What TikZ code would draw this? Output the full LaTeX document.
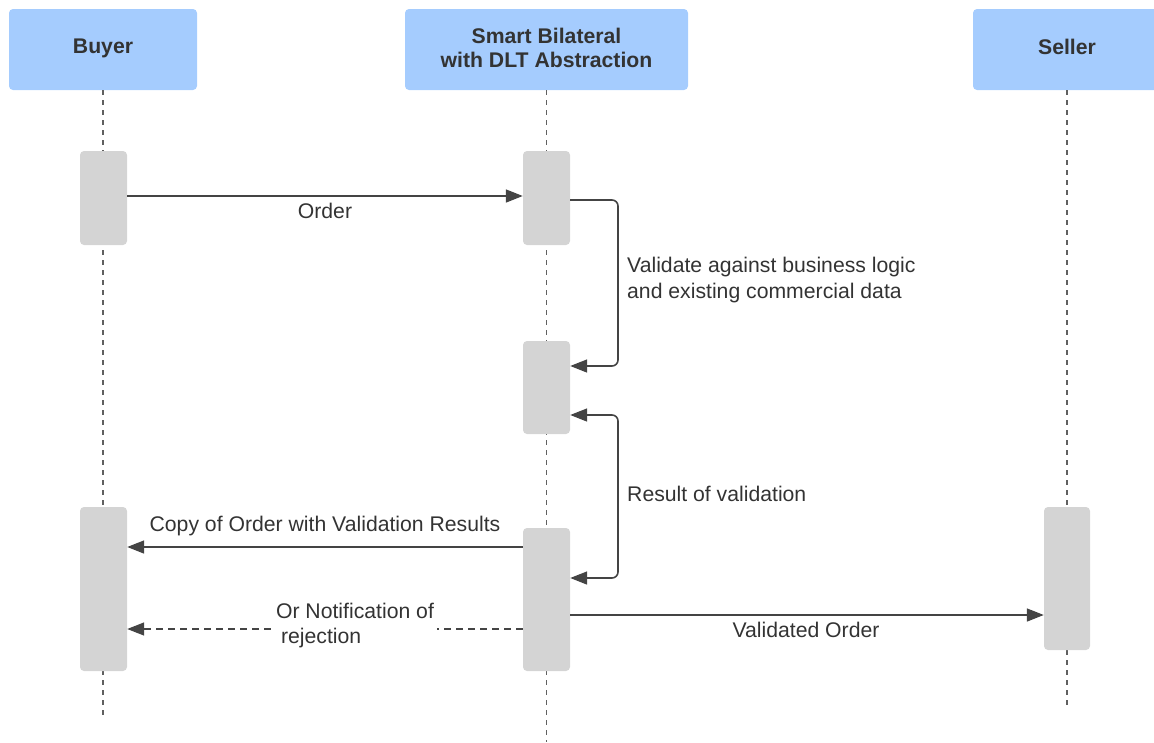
\documentclass[tikz,border=0pt]{standalone}
\usepackage{fontspec}
\setmainfont{Liberation Sans}
\usetikzlibrary{arrows.meta,calc}
\definecolor{hdr}{HTML}{A5CCFE}
\definecolor{act}{HTML}{D4D4D4}
\definecolor{ink}{HTML}{333333}
\definecolor{ln}{HTML}{444444}
\begin{document}
\begin{tikzpicture}[x=1pt,y=-1pt,
  font=\fontsize{21.2}{25.5}\selectfont, text=ink,
  header/.style={fill=hdr, rounded corners=4pt, inner sep=0pt, minimum height=81pt, align=center, font=\fontsize{21.2}{24}\selectfont\bfseries},
  actbox/.style={fill=act, rounded corners=4pt, inner sep=0pt, minimum width=47pt},
  lifeline/.style={draw=ln!85, line width=1.1pt, dash pattern=on 5pt off 5pt},
  msg/.style={draw=ln, line width=1.6pt, -{Triangle[length=17pt,width=13pt]}},
  msgd/.style={draw=ln, line width=1.4pt, dash pattern=on 7pt off 5pt, -{Triangle[length=17pt,width=13pt]}},
  lbl/.style={inner sep=0pt}
]
\useasboundingbox (0,0) rectangle (1154,742);
\clip (0,0) rectangle (1154,742);
% headers
\node[header, minimum width=188pt, text depth=6.5pt] (hb) at (103,49.5) {Buyer};
\node[header, minimum width=283pt, text depth=4pt] (hs) at (546.5,49.5) {Smart Bilateral\\with DLT Abstraction};
\node[header, minimum width=188pt, text depth=6pt] (hl) at (1067,49.5) {Seller};
% lifeline ends
\coordinate (eb) at (103,718);
\coordinate (es) at (546.5,742);
\coordinate (el) at (1067,706);
\draw[lifeline] (hb.south) -- (eb);
\draw[lifeline] (hs.south) -- (es);
\draw[lifeline] (hl.south) -- (el);
% activations
\node[actbox, minimum height=94pt] (b1) at (103.5,198) {};
\node[actbox, minimum height=94pt] (s1) at (546.5,198) {};
\node[actbox, minimum height=93pt] (s2) at (546.5,387.5) {};
\node[actbox, minimum height=164pt] (b2) at (103.5,589) {};
\node[actbox, minimum height=143pt] (s3) at (546.5,599.5) {};
\node[actbox, minimum width=46pt, minimum height=143pt] (sl) at (1067,578.5) {};
% messages
\draw[msg] (b1.east |- 0,196) -- (s1.west |- 0,196);
\node[lbl] (lorder) at (325,211) {Order};
\draw[msg, rounded corners=6pt] (s1.east |- 0,200) -| (618,366) -- (s2.east |- 0,366);
\node[lbl, anchor=west, align=left] (lval) at (627,280) {Validate against business logic\\and existing commercial data};
\draw[draw=ln, line width=1.6pt, {Triangle[length=17pt,width=13pt]}-{Triangle[length=17pt,width=13pt]}, rounded corners=6pt] (s2.east |- 0,415) -| (618,578) -- (s3.east |- 0,578);
\node[lbl, anchor=west] (lres) at (627,494) {Result of validation};
\draw[msg] (s3.west |- 0,547) -- (b2.east |- 0,547);
\node[lbl] (lcopy) at (325,526) {Copy of Order with Validation Results};
\draw[msgd] (s3.west |- 0,629) -- (b2.east |- 0,629);
\node[fill=white, inner xsep=3pt, inner ysep=0pt, align=left] (lrej) at (355,625.5) {Or Notification of\\\hspace{5pt}rejection};
\draw[msg] (s3.east |- 0,615) -- (sl.west |- 0,615);
\node[lbl] (lvo) at (806,630) {Validated Order};
\end{tikzpicture}
\end{document}
